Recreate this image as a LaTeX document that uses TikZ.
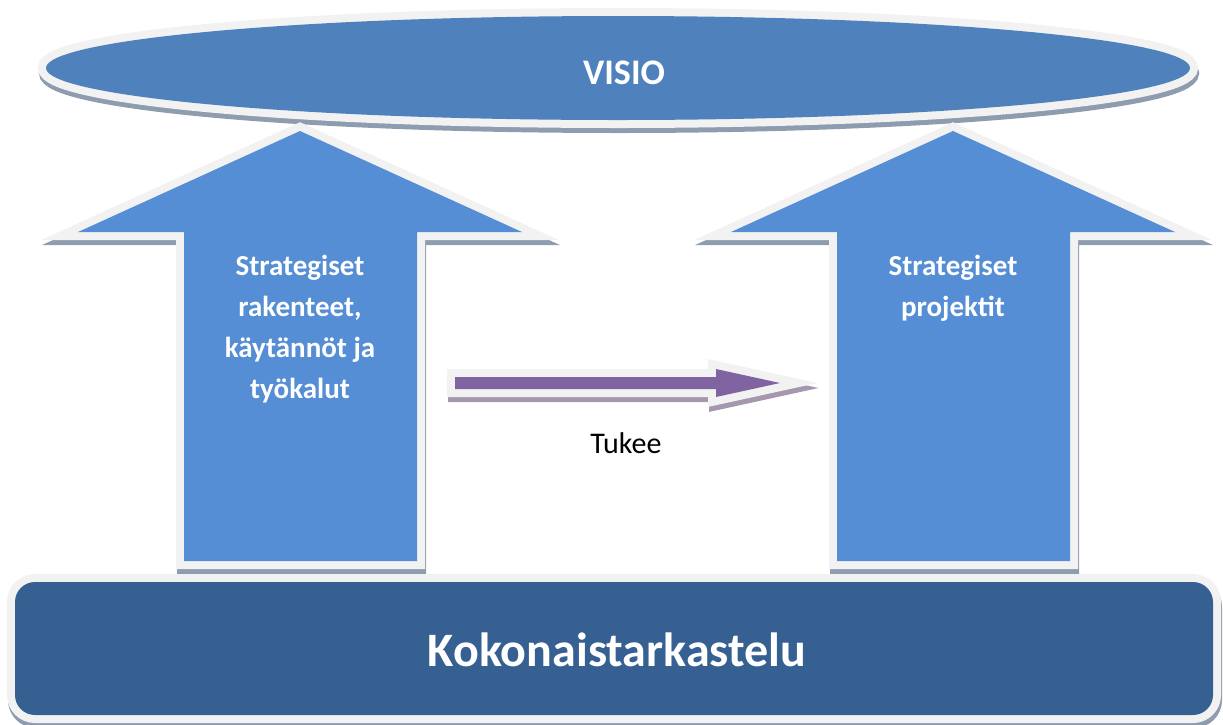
\documentclass[tikz,border=0pt]{standalone}
\usepackage{fontspec}
\setmainfont{Carlito}
\definecolor{visioblue}{HTML}{4F81BD}
\definecolor{arrowblue}{HTML}{558ED5}
\definecolor{baseblue}{HTML}{366092}
\definecolor{bordergray}{HTML}{F2F2F2}
\definecolor{shadowgray}{HTML}{8E9CAF}
\definecolor{tukeepurple}{HTML}{8064A2}
\definecolor{purpleshadow}{HTML}{A597AE}
\tikzset{
  shape3d/.style={draw=bordergray, line width=16pt, line join=miter,
    preaction={draw=#1, fill=#1, line width=16pt,
      transform canvas={shift={(1pt,-5pt)}}}},
  shape3d/.default=shadowgray,
  labeltext/.style={text=white, font=\bfseries, align=center, inner sep=0pt},
}
\begin{document}
\begin{tikzpicture}[x=1pt, y=-1pt]
\useasboundingbox (0,0) rectangle (1223,724);
% vision ellipse
\path[shape3d, postaction={fill=visioblue}] (618,68) ellipse [x radius=572, y radius=52];
\node[labeltext, font=\fontsize{36}{40}\selectfont\bfseries] (visio) at (624,73) {VISIO};
% left arrow
\path[shape3d, postaction={fill=arrowblue}]
  (300,131) -- (78,232) -- (184,232) -- (184,561) -- (417,561) -- (417,232) -- (522,232) -- cycle;
\node[labeltext, font=\fontsize{29}{41}\selectfont\bfseries] (rakenteet) at (300,329)
  {Strategiset\\rakenteet,\\käytännöt ja\\työkalut};
% right arrow
\path[shape3d, postaction={fill=arrowblue}]
  (953,131) -- (731,232) -- (837,232) -- (837,561) -- (1070,561) -- (1070,232) -- (1175,232) -- cycle;
\node[labeltext, font=\fontsize{29}{41}\selectfont\bfseries] (projektit) at (953,288)
  {Strategiset\\projektit};
% supporting arrow
\path[shape3d=purpleshadow, postaction={fill=tukeepurple}]
  (455,377) -- (716,377) -- (716,369) -- (780,383) -- (716,397) -- (716,389) -- (455,389) -- cycle;
\node[inner sep=0pt, font=\fontsize{30}{34}\selectfont] (tukee) at (626,443) {Tukee};
% base
\path[shape3d, rounded corners=20pt, postaction={fill=baseblue}]
  (15,582) rectangle (1213,715);
\node[labeltext, font=\fontsize{48}{52}\selectfont\bfseries] (koko) at (617,650) {Kokonaistarkastelu};
\end{tikzpicture}
\end{document}
